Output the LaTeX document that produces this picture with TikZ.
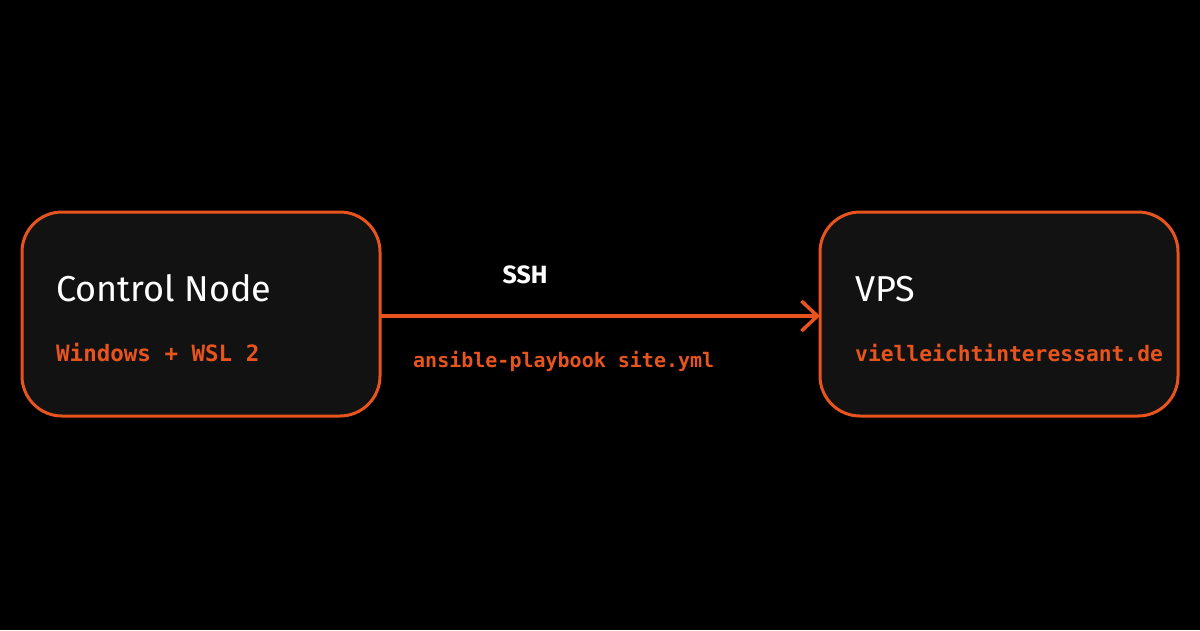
\documentclass[tikz,border=0pt]{standalone}
\usepackage{fontspec}
\setmainfont{Fira Sans}
\newfontfamily\monof{DejaVu Sans Mono}
\usetikzlibrary{arrows.meta}
\definecolor{org}{HTML}{E8541E}
\definecolor{boxf}{HTML}{121212}
\begin{document}
\begin{tikzpicture}[x=1pt,y=-1pt,
 box/.style={draw=org,line width=3pt,fill=boxf,rounded corners=40pt},
 ttl/.style={anchor=base west,text=white,font=\fontsize{36}{36}\selectfont,inner sep=0},
 sub/.style={anchor=base west,text=org,font=\monof\bfseries\fontsize{20}{20}\selectfont,inner sep=0}]
\fill[black] (0,0) rectangle (1200,630);
\draw[box] (22,212) rectangle (380,416);
\draw[box] (820,212) rectangle (1178,416);
\coordinate (a) at (379,316);
\coordinate (b) at (820,316);
\draw[org,line width=3.5pt,-{Straight Barb[length=16pt,width=30pt,line width=3.5pt]}] (a) -- (b);
\node[ttl] (cn) at (56,301) {Control Node};
\node[sub,font=\monof\bfseries\fontsize{22.5}{22.5}\selectfont] (win) at (56,361) {Windows + WSL 2};
\node[ttl] (vps) at (855,301) {VPS};
\node[sub,font=\monof\bfseries\fontsize{21.3}{21.3}\selectfont] (dom) at (855,361) {vielleichtinteressant.de};
\node[anchor=base,text=white,font=\bfseries\fontsize{25}{25}\selectfont,inner sep=0] (ssh) at (525,283) {SSH};
\node[sub] (cmd) at (413,367) {ansible-playbook site.yml};
\end{tikzpicture}
\end{document}
